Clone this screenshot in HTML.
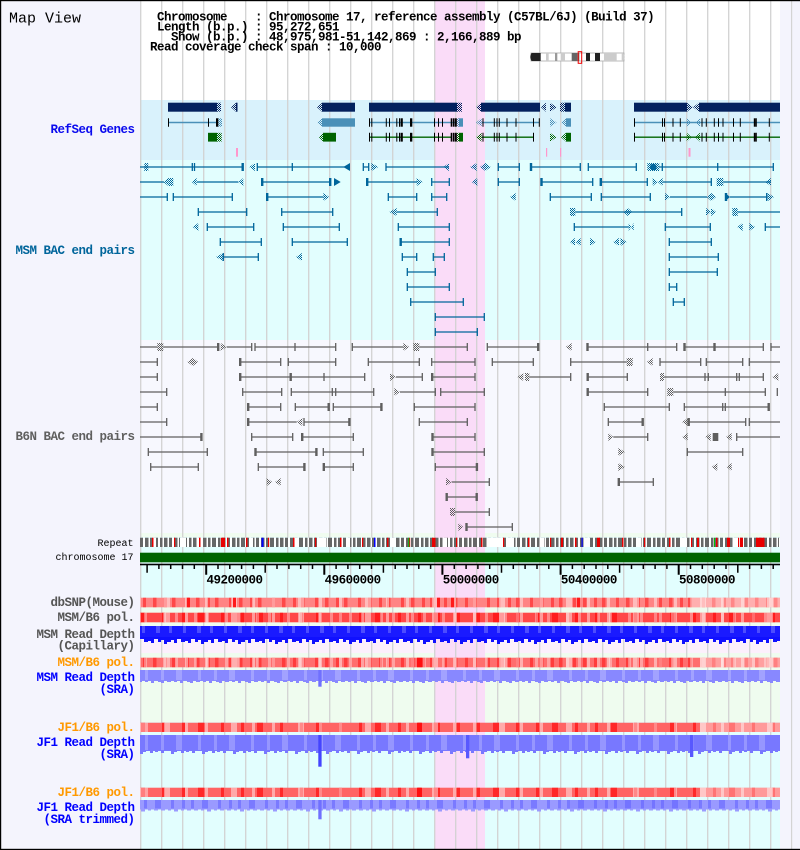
<!DOCTYPE html>
<html><head><meta charset="utf-8"><title>Map View</title>
<style>
html,body{margin:0;padding:0;background:#fff;}
svg{display:block;}
text{font-family:"Liberation Mono","DejaVu Sans Mono",monospace;}
.b{font-weight:bold;font-size:12.5px;letter-spacing:-0.5px;}
.s{font-size:10px;}
</style></head><body>
<svg width="800" height="850" viewBox="0 0 800 850" xmlns="http://www.w3.org/2000/svg">
<defs>
<pattern id="hT" width="2" height="2" patternUnits="userSpaceOnUse"><rect width="1" height="1" fill="#00659b"/><rect x="1" y="1" width="1" height="1" fill="#00659b"/></pattern>
<pattern id="hG" width="2" height="2" patternUnits="userSpaceOnUse"><rect width="1" height="1" fill="#5f5f5f"/><rect x="1" y="1" width="1" height="1" fill="#5f5f5f"/></pattern>
<pattern id="hN" width="2" height="2" patternUnits="userSpaceOnUse"><rect width="1" height="1" fill="#04215e"/><rect x="1" y="1" width="1" height="1" fill="#04215e"/></pattern>
<pattern id="hL" width="2" height="2" patternUnits="userSpaceOnUse"><rect width="1" height="1" fill="#4a90b8"/><rect x="1" y="1" width="1" height="1" fill="#4a90b8"/></pattern>
<pattern id="hD" width="2" height="2" patternUnits="userSpaceOnUse"><rect width="1" height="1" fill="#006400"/><rect x="1" y="1" width="1" height="1" fill="#006400"/></pattern>

<pattern id="dk1" width="43" height="850" patternUnits="userSpaceOnUse"><g fill="#ff0000" fill-opacity=".45"><rect x="0" width="3.5" height="850"/><rect x="14" width="3" height="850"/><rect x="24" width="3.5" height="850"/><rect x="35" width="3" height="850"/></g></pattern>
<pattern id="dk2" width="59" height="850" patternUnits="userSpaceOnUse"><g fill="#ff0000" fill-opacity=".6"><rect x="5" width="3" height="850"/><rect x="21" width="6" height="850"/><rect x="44" width="3" height="850"/></g></pattern>
<pattern id="lt1" width="67" height="850" patternUnits="userSpaceOnUse"><g fill="#fff" fill-opacity=".45"><rect x="4" width="3" height="850"/><rect x="30" width="6" height="850"/><rect x="51" width="3" height="850"/></g></pattern>
<pattern id="lt2" width="31" height="850" patternUnits="userSpaceOnUse"><g fill="#fff" fill-opacity=".35"><rect x="8" width="3" height="850"/><rect x="20" width="3" height="850"/></g></pattern>

<pattern id="rep" width="29" height="850" patternUnits="userSpaceOnUse"><g fill="#666"><rect x="0" width="3.5" height="850"/><rect x="5" width="2.5" height="850"/><rect x="9" width="4" height="850"/><rect x="15" width="2.5" height="850"/><rect x="19" width="3.5" height="850"/><rect x="24" width="3" height="850"/></g></pattern>
<pattern id="gap" width="97" height="850" patternUnits="userSpaceOnUse"><g fill="#fff"><rect x="3" width="5" height="850"/><rect x="55" width="4" height="850"/></g></pattern>
<pattern id="red" width="47" height="850" patternUnits="userSpaceOnUse"><g fill="#e80000"><rect x="11" width="1.5" height="850"/><rect x="33" width="1.2" height="850"/></g></pattern>

<pattern id="w1" width="41" height="850" patternUnits="userSpaceOnUse"><g fill="#fff" fill-opacity=".22"><rect x="5" width="3" height="850"/><rect x="19" width="3" height="850"/><rect x="33" width="4" height="850"/></g></pattern>
<pattern id="w2" width="53" height="850" patternUnits="userSpaceOnUse"><g fill="#fff" fill-opacity=".22"><rect x="2" width="3" height="850"/><rect x="17" width="6" height="850"/><rect x="39" width="3" height="850"/></g></pattern>
<pattern id="db" width="47" height="850" patternUnits="userSpaceOnUse"><g fill="#4040ff" fill-opacity=".35"><rect x="3" width="3" height="850"/><rect x="14" width="6" height="850"/><rect x="30" width="3" height="850"/><rect x="41" width="3" height="850"/></g></pattern>

<pattern id="pCap" x="0" y="637" width="37" height="30" patternUnits="userSpaceOnUse"><g fill="#1010ff"><rect x="0" width="3" height="4"/><rect x="3" width="3" height="6"/><rect x="6" width="4" height="2"/><rect x="10" width="3" height="5"/><rect x="13" width="3" height="3"/><rect x="16" width="3" height="7"/><rect x="19" width="4" height="5"/><rect x="23" width="3" height="3"/><rect x="26" width="3" height="6"/><rect x="29" width="4" height="2"/><rect x="33" width="4" height="5"/></g></pattern>
<pattern id="pSm" x="0" y="680" width="29" height="20" patternUnits="userSpaceOnUse"><g fill="#8888ff"><rect x="0" width="3" height="2"/><rect x="3" width="3" height="1"/><rect x="6" width="3" height="3"/><rect x="9" width="4" height="1"/><rect x="13" width="3" height="2"/><rect x="16" width="3" height="3"/><rect x="19" width="3" height="1"/><rect x="22" width="4" height="2"/><rect x="26" width="3" height="1"/></g></pattern>
<pattern id="pSj" x="0" y="750" width="31" height="20" patternUnits="userSpaceOnUse"><g fill="#7878ff"><rect x="0" width="3" height="2"/><rect x="3" width="3" height="1"/><rect x="6" width="3" height="3"/><rect x="9" width="4" height="1"/><rect x="13" width="3" height="1"/><rect x="16" width="3" height="4"/><rect x="19" width="3" height="2"/><rect x="22" width="4" height="1"/><rect x="26" width="3" height="3"/><rect x="29" width="2" height="1"/></g></pattern>
<pattern id="pSt" x="0" y="808.5" width="33" height="20" patternUnits="userSpaceOnUse"><g fill="#9a9aff"><rect x="0" width="3" height="1"/><rect x="3" width="3" height="2"/><rect x="6" width="3" height="1"/><rect x="9" width="4" height="3"/><rect x="13" width="3" height="1"/><rect x="16" width="3" height="2"/><rect x="19" width="3" height="1"/><rect x="22" width="4" height="2"/><rect x="26" width="3" height="1"/><rect x="29" width="4" height="2"/></g></pattern>
</defs>

<!-- page background -->
<rect width="800" height="850" fill="#f4f4fd"/>

<!-- track backgrounds -->
<rect x="140" y="1" width="640" height="99" fill="#ffffff"/>
<rect x="140" y="100" width="640" height="60" fill="#d9f2fc"/>
<rect x="140" y="160" width="640" height="180" fill="#e2fefe"/>
<rect x="140" y="340" width="640" height="193" fill="#f7f8fe"/>
<rect x="140" y="533" width="640" height="4" fill="#f0fcf0"/>
<rect x="140" y="537" width="640" height="70" fill="#e2fefe"/>
<rect x="140" y="607" width="640" height="19" fill="#effcef"/>
<rect x="140" y="626" width="640" height="27" fill="#fcf0fc"/>
<rect x="140" y="653" width="640" height="69" fill="#effcef"/>
<rect x="140" y="722" width="640" height="127" fill="#e2fefe"/>

<!-- highlight -->
<rect x="434.7" y="1" width="50.3" height="848" fill="#fadcf8"/>

<!-- grid -->
<path stroke="#d2d2d2" stroke-width="1.3" fill="none" d="M140.7 1V849M161.7 1V849M182.7 1V849M203.7 1V849M224.7 1V849M245.7 1V849M266.7 1V849M287.7 1V849M308.7 1V849M329.7 1V849M350.7 1V849M371.7 1V849M392.7 1V849M413.7 1V849M434.7 1V849M455.7 1V849M476.7 1V849M497.7 1V849M518.7 1V849M539.7 1V849M560.7 1V849M581.7 1V849M602.7 1V849M623.7 1V849M644.7 1V849M665.7 1V849M686.7 1V849M707.7 1V849M728.7 1V849M749.7 1V849M770.7 1V849"/>

<!-- header text -->
<text x="9" y="22.7" font-size="15" fill="#000">Map View</text>
<g class="b" fill="#000" style="white-space:pre">
<text x="157" y="20.7" xml:space="preserve">Chromosome    : Chromosome 17, reference assembly (C57BL/6J) (Build 37)</text>
<text x="157" y="30.7" xml:space="preserve">Length (b.p.) : 95,272,651</text>
<text x="157" y="40.7" xml:space="preserve">  Show (b.p.) : 48,975,981-51,142,869 : 2,166,889 bp</text>
<text x="150" y="50.7" xml:space="preserve">Read coverage check span : 10,000</text>
</g>

<!-- ideogram -->
<g>
<rect x="531" y="53" width="93" height="8" fill="#fff" stroke="#aaa" stroke-width="0.8"/>
<path d="M533.5 53H531.5Q529 57 531.5 61H533.5Z" fill="#222"/>
<rect x="533.3" y="53" width="7.4" height="8" fill="#222"/>
<rect x="546" y="53" width="2.7" height="8" fill="#ccc"/>
<rect x="555" y="53" width="2.3" height="8" fill="#999"/>
<rect x="560.7" y="53" width="4.3" height="8" fill="#ccc"/>
<rect x="571.7" y="53" width="5.6" height="8" fill="#666"/>
<rect x="577.3" y="53" width="2" height="8" fill="#666"/>
<rect x="586" y="53" width="4" height="8" fill="#222"/>
<rect x="595" y="53" width="5" height="8" fill="#222"/>
<rect x="604" y="53" width="12.7" height="8" fill="#ccc"/>
<path d="M621.7 53H623Q626.5 57 623 61H621.7Z" fill="#ccc"/>
<rect x="578.2" y="51.7" width="3.5" height="11.6" fill="none" stroke="#e00" stroke-width="1"/>
</g>

<!-- RefSeq row 1 (navy) -->
<g fill="#04215e">
<rect x="168" y="102.7" width="49" height="9"/>
<rect x="217" y="102.7" width="4" height="9" fill="url(#hN)"/>
<polygon points="231,107.2 236,102.7 236,111.7" fill="url(#hN)"/><rect x="236" y="102.7" width="1.5" height="9"/>
<polygon points="317,107.2 322,102.7 322,111.7" fill="url(#hN)"/>
<rect x="322" y="102.7" width="33" height="9"/>
<rect x="369" y="102.7" width="88" height="9"/>
<rect x="457" y="102.7" width="5" height="9" fill="url(#hN)"/>
<polygon points="476,107.2 481,102.7 481,111.7" fill="url(#hN)"/>
<rect x="481" y="102.7" width="59" height="9"/>
<polygon points="541,107.2 546,102.7 546,111.7" fill="url(#hN)"/>
<polygon points="556.7,107.2 550,102.7 550,111.7" fill="url(#hN)"/>
<rect x="560" y="102.7" width="5" height="9" fill="url(#hN)"/>
<rect x="565" y="102.7" width="6" height="9"/>
<rect x="634" y="102.7" width="53" height="9"/>
<polygon points="687,102.7 693,107.2 687,111.7" fill="url(#hN)"/>
<polygon points="699,102.7 693,107.2 699,111.7" fill="url(#hN)"/>
<rect x="699" y="102.7" width="81" height="9"/>
</g>

<!-- RefSeq row 2 (steel blue) -->
<path stroke="#4a90b8" stroke-width="1.4" fill="none" d="M168 122.5H216M369 122.5H457M481.7 122.5H539M634 122.5H780"/>
<g fill="#4a90b8">
<rect x="218.3" y="118.3" width="3.7" height="8.4" fill="url(#hL)"/>
<polygon points="317,122.5 322,118.3 322,126.7" fill="url(#hL)"/>
<rect x="322" y="118.3" width="33" height="8.4"/>
<rect x="457" y="118.3" width="2" height="8.4" fill="url(#hL)"/>
<rect x="459" y="118.3" width="4" height="8.4"/>
<polygon points="476,122.5 481.7,118.3 481.7,126.7" fill="url(#hL)"/>
<polygon points="556.7,122.5 550,118.3 550,126.7" fill="url(#hL)"/>
<polygon points="561,122.5 566,118.3 566,126.7" fill="url(#hL)"/>
<rect x="566" y="118.3" width="5" height="8.4"/>
<polygon points="691.7,122.5 686.7,118.3 686.7,126.7" fill="url(#hL)"/>
<polygon points="695,122.5 700,118.3 700,126.7" fill="url(#hL)"/>
</g>
<path stroke="#000" stroke-width="1" fill="none" d="M168.5 118.3v8.4M208.5 118.3v8.4M369.5 118.3v8.4M371.8 118.3v8.4M386.3 118.3v8.4M389.5 118.3v8.4M396.8 118.3v8.4M399.5 118.3v8.4M434.5 118.3v8.4M438.5 118.3v8.4M442.5 118.3v8.4M483 118.3v8.4M494.3 118.3v8.4M497 118.3v8.4M499.3 118.3v8.4M507 118.3v8.4M516 118.3v8.4M533.5 118.3v8.4M539.3 118.3v8.4M634.5 118.3v8.4M662.5 118.3v8.4M664.5 118.3v8.4M673 118.3v8.4M680.3 118.3v8.4M702 118.3v8.4M706.3 118.3v8.4M714.3 118.3v8.4M718.5 118.3v8.4M723 118.3v8.4M733.5 118.3v8.4M740.3 118.3v8.4M756.3 118.3v8.4M769.3 118.3v8.4"/>
<g fill="#000">
<rect x="216" y="118.3" width="2.3" height="8.4"/><rect x="400.5" y="118.3" width="2.3" height="8.4"/><rect x="410" y="118.3" width="2.3" height="8.4"/><rect x="450.7" y="118.3" width="1.5" height="8.4"/><rect x="452.8" y="118.3" width="1.4" height="8.4"/><rect x="454.6" y="118.3" width="2.2" height="8.4"/><rect x="753.8" y="118.3" width="2" height="8.4"/>
</g>

<!-- RefSeq row 3 (green) -->
<path stroke="#006400" stroke-width="1.4" fill="none" d="M369 137.2H451M481.7 137.2H533.3M634 137.2H780"/>
<g fill="#006400">
<rect x="208" y="132.8" width="9" height="8.8"/>
<rect x="217" y="132.8" width="4.7" height="8.8" fill="url(#hD)"/>
<polygon points="319,137.2 323,132.8 323,141.6" fill="url(#hD)"/>
<rect x="323" y="132.8" width="13" height="8.8"/>
<rect x="456.7" y="132.8" width="2.3" height="8.8" fill="url(#hD)"/>
<rect x="459" y="132.8" width="4" height="8.8"/>
<polygon points="476,137.2 481.7,132.8 481.7,141.6" fill="url(#hD)"/>
<polygon points="556.7,137.2 550,132.8 550,141.6" fill="url(#hD)"/>
<polygon points="561,137.2 566,132.8 566,141.6" fill="url(#hD)"/>
<rect x="566" y="132.8" width="5" height="8.8"/>
<polygon points="691.7,137.2 686.7,132.8 686.7,141.6" fill="url(#hD)"/>
<polygon points="695,137.2 700,132.8 700,141.6" fill="url(#hD)"/>
</g>
<path stroke="#000" stroke-width="1" fill="none" d="M369.5 132.8v8.8M371.8 132.8v8.8M386.3 132.8v8.8M389.5 132.8v8.8M396.8 132.8v8.8M399.5 132.8v8.8M434.5 132.8v8.8M438.5 132.8v8.8M442.5 132.8v8.8M483 132.8v8.8M494.3 132.8v8.8M497 132.8v8.8M499.3 132.8v8.8M507 132.8v8.8M516 132.8v8.8M533.5 132.8v8.8M634.5 132.8v8.8M662.5 132.8v8.8M664.5 132.8v8.8M673 132.8v8.8M680.3 132.8v8.8M702 132.8v8.8M706.3 132.8v8.8M714.3 132.8v8.8M718.5 132.8v8.8M723 132.8v8.8M733.5 132.8v8.8M740.3 132.8v8.8M756.3 132.8v8.8M769.3 132.8v8.8"/>
<g fill="#000">
<rect x="400.5" y="132.8" width="2.3" height="8.8"/><rect x="410" y="132.8" width="2.3" height="8.8"/><rect x="450.7" y="132.8" width="1.5" height="8.8"/><rect x="452.8" y="132.8" width="1.4" height="8.8"/><rect x="454.6" y="132.8" width="2.2" height="8.8"/><rect x="753.8" y="132.8" width="2" height="8.8"/>
</g>

<!-- RefSeq row 4 pink marks -->
<g fill="#ff96cc">
<rect x="236" y="148" width="2" height="8.7"/><rect x="546" y="148" width="1.2" height="8.7"/><rect x="560" y="148" width="1.2" height="8.7"/><rect x="688.5" y="148" width="2" height="8.7"/>
</g>

<!-- MSM BAC end pairs -->
<path stroke="#00659b" stroke-width="1.3" fill="none" d="
M140 167H243M192.3 163v8M194.5 163v8M257 167H347M257.3 163v8M292.3 163v8M363.3 167H368.7M363.3 163v8M368.7 163v8M386 167H449M386 163v8M498.3 167H519.3M498.3 163v8M519.3 163v8M531 167H580.3M580.3 163v8M588.3 167H636.3M588.3 163v8M636.3 163v8M659 167H773.3M662.3 163v8M717.7 163v8M773.3 163v8
M140 182H164M197 182H238.3M261.7 182H330M367 182H417M431.7 182H449.3M431.7 178v8M449.3 178v8M498.3 182H519.3M498.3 178v8M519.3 178v8M541 182H592.7M592.7 178v8M600.3 182H647.3M647.3 178v8M662.7 182H711.3M711.3 178v8M723.3 182H771
M140 197H167.3M167.3 193v8M173.3 197H232.3M173.3 193v8M232.3 193v8M266.7 197H323.3M388.3 197H416.7M388.3 193v8M416.7 193v8M431.7 197H446.7M431.7 193v8M446.7 193v8M550.3 197H591.3M550.3 193v8M591.3 193v8M601.3 197H650.3M601.3 193v8M650.3 193v8M670 197H707M730 197H767.7M766.7 193v8
M198.3 212H246.7M198.3 208v8M246.7 208v8M281.7 212H332.7M281.7 208v8M332.7 208v8M396.7 212H437.3M437.3 208v8M575.3 212H681.7M681.7 208v8M737.7 212H780
M207.3 227H253.7M207.3 223v8M253.7 223v8M283.3 227H339.3M283.3 223v8M339.3 223v8M398.3 227H449.3M398.3 223v8M449.3 223v8M574.3 227H628.7M574.3 223v8M665.3 227H710.3M665.3 223v8M710.3 223v8M765.3 227H780M765.3 223v8
M220.3 242H261.3M220.3 238v8M261.3 238v8M292.3 242H347.3M292.3 238v8M347.3 238v8M400.5 242H449.3M449.3 238v8M669.3 242H711.3M669.3 238v8M711.3 238v8
M223.3 257H258.3M258.3 253v8M223.3 253v8M402.3 257H416.7M402.3 253v8M416.7 253v8M433.3 257H444.3M433.3 253v8M444.3 253v8M669.3 257H718.3M669.3 253v8M718.3 253v8
M407.3 272H435.3M407.3 268v8M435.3 268v8M669.3 272H717.3M669.3 268v8M717.3 268v8
M407.3 287H449.3M407.3 283v8M449.3 283v8M669.3 287H676.7M669.3 283v8M676.7 283v8
M410.7 302H463.3M410.7 298v8M463.3 298v8M673.3 302H684.3M673.3 298v8M684.3 298v8
M435.3 317H484.3M435.3 313v8M484.3 313v8
M435.3 332H477.3M435.3 328v8M477.3 328v8"/>
<g fill="#00659b">
<rect x="241.5" y="163" width="2.4" height="8"/><rect x="529.8" y="163" width="2.4" height="8"/>
<rect x="261" y="178" width="2.4" height="8"/><rect x="329" y="178" width="2.4" height="8"/><rect x="366" y="178" width="2.4" height="8"/><rect x="540.3" y="178" width="2.4" height="8"/><rect x="599.6" y="178" width="2.4" height="8"/>
<rect x="266" y="193" width="2.4" height="8"/><rect x="724.8" y="193" width="2.4" height="8"/>
<rect x="399.5" y="238" width="2.4" height="8"/>
<polygon points="343.3,167 350,163 350,171"/>
<polygon points="340.7,182 334,178 334,186"/>
<polygon points="730,197 725.3,193 725.3,201"/>
<circle cx="653.3" cy="167" r="3.3"/>
</g>
<g fill="url(#hT)">
<rect x="144.3" y="163" width="4" height="8"/>
<polygon points="249.3,167 255,163 255,171"/>
<polygon points="378.3,167 371.3,163 371.3,171"/>
<polygon points="443.3,167 449,163 449,171"/>
<polygon points="470,167 476.7,163 476.7,171"/>
<polygon points="480,167 485.3,163 490.7,167 485.3,171"/>
<rect x="647.3" y="163" width="12" height="8"/>
<polygon points="163.3,182 168.3,178 168.3,186"/><rect x="168.3" y="178" width="5" height="8"/>
<polygon points="191.7,182 196.7,178 196.7,186"/>
<polygon points="238.3,182 243.3,178 243.3,186"/>
<polygon points="422.7,182 416.7,178 416.7,186"/>
<polygon points="471.7,182 477.3,178 477.3,186"/>
<polygon points="652.7,178 657.7,182 652.7,186"/><polygon points="662.7,178 657.7,182 662.7,186"/>
<rect x="716.7" y="178" width="6.6" height="8"/>
<polygon points="765,182 771,178 771,186"/>
<polygon points="329.3,197 323.3,193 323.3,201"/>
<polygon points="510,197 515.7,193 515.7,201"/>
<polygon points="670,197 665,193 665,201"/>
<polygon points="706.7,197 711.3,193 716,197 711.3,201"/>
<polygon points="774,197 767.7,193 767.7,201"/>
<polygon points="389.3,212 396.7,208 396.7,216"/>
<rect x="570" y="208" width="5.3" height="8"/>
<polygon points="623.3,212 627.8,208 632.3,212 627.8,216"/>
<polygon points="711,212 706,208 706,216"/><polygon points="716,212 711,208 711,216"/>
<rect x="732.3" y="208" width="5.4" height="8"/>
<polygon points="192.7,227 198.3,223 198.3,231"/>
<polygon points="628.7,223 631.2,227 628.7,231"/><polygon points="633.7,223 631.2,227 633.7,231"/>
<polygon points="737.3,227 742.7,223 742.7,231"/>
<polygon points="755,227 749.3,223 749.3,231"/>
<polygon points="570,242 575,238 575,246"/><polygon points="575.5,242 580.7,238 580.7,246"/>
<polygon points="595.7,242 590,238 590,246"/>
<polygon points="613.3,242 619,238 619,246"/><polygon points="626.7,242 620.5,238 620.5,246"/>
<polygon points="216,257 223.3,253 223.3,261"/>
<polygon points="296,257 302,253 302,261"/>
</g>

<!-- B6N BAC end pairs -->
<path stroke="#5f5f5f" stroke-width="1.3" fill="none" d="
M140 347H157.3M163.3 347H218.3M226.7 347H251.7M255 347H335.7M352.3 347H403.3M251.7 343v8M255 343v8M295 343v8M335.7 343v8M352.3 343v8M419.3 347H467.3M467.3 343v8M487.3 347H538.3M487.3 343v8M587.3 347H676.7M647.7 343v8M676.7 343v8M684.3 347H763.3M763.3 343v8M771 347H780M771 343v8
M140 362H157.3M157.3 358v8M240 362H280.7M280.7 358v8M288.3 362H335.7M288.3 358v8M335.7 358v8M368.3 362H419.3M368.3 358v8M419.3 358v8M431.7 362H475M431.7 358v8M475 358v8M492.3 362H533.3M492.3 358v8M533.3 358v8M570.7 362H626.7M570.7 358v8M660 362H700.7M660 358v8M700.7 358v8M706.3 362H742.7M706.3 358v8M742.7 358v8M749.3 362H780M749.3 358v8
M140 377H157.3M157.3 373v8M240 377H364.7M324 373v8M364.7 373v8M396 377H422.3M422.3 373v8M431.7 377H475M475 373v8M529.3 377H570.7M570.7 373v8M587.3 377H627.3M627.3 373v8M664 377H763.3M705 373v8M708.3 373v8M736.7 373v8M739.3 373v8M763.3 373v8
M140 392H166.7M166.7 388v8M242.7 392H281.7M242.7 388v8M281.7 388v8M291.3 392H373.7M291.3 388v8M332.3 388v8M335.7 388v8M373.7 388v8M400 392H435.3M435.3 388v8M440.7 392H484.3M440.7 388v8M484.3 388v8M587.3 392H647.7M647.7 388v8M673.3 392H765.3M725.3 388v8M765.3 388v8M777.3 388v8
M140 407H157.3M157.3 403v8M247.7 407H280.7M280.7 403v8M295.3 407H328.3M295.3 403v8M333.3 407H381M333.3 403v8M414.3 407H475M414.3 403v8M475 403v8M604.3 407H669.3M604.3 403v8M669.3 403v8M684.3 407H768.3M684.3 403v8M722.7 403v8M725.3 403v8
M140 422H166.7M166.7 418v8M247.7 422H296.7M304 422H349M304 418v8M419.3 422H467.3M419.3 418v8M467.3 418v8M608.3 422H642.3M608.3 418v8M688.3 422H745.7M745.7 418v8M749.3 422H780M749.3 418v8
M140 437H201M251.7 437H292.7M251.7 433v8M292.7 433v8M301.7 437H353.3M353.3 433v8M432 437H475M475 433v8M613.3 437H647.7M647.7 433v8M736.7 437H780M736.7 433v8
M148.3 452H207.3M148.3 448v8M207.3 448v8M255 452H316M323.3 452H363.3M323.3 448v8M363.3 448v8M432 452H484.3M484.3 448v8M687.3 452H742.7M687.3 448v8M742.7 448v8
M150.7 467H198.3M150.7 463v8M198.3 463v8M258.3 467H304M258.3 463v8M323.3 467H353.3M353.3 463v8M435.3 467H476.7M435.3 463v8
M451.7 482H489.3M489.3 478v8M618.3 482H653.3M653.3 478v8
M446 497H476
M455 512H489.3M489.3 508v8
M466 527H512.3M512.3 523v8"/>
<g fill="#5f5f5f">
<rect x="217" y="343" width="2.4" height="8"/><rect x="537" y="343" width="2.4" height="8"/><rect x="586.3" y="343" width="2.4" height="8"/><rect x="683.3" y="343" width="2.4" height="8"/><rect x="713.3" y="343" width="2.4" height="8"/>
<rect x="239" y="358" width="2.4" height="8"/>
<rect x="239" y="373" width="2.4" height="8"/><rect x="289.5" y="373" width="2.4" height="8"/><rect x="431" y="373" width="2.4" height="8"/><rect x="586.5" y="373" width="2.4" height="8"/>
<rect x="586.5" y="388" width="2.4" height="8"/>
<rect x="247" y="403" width="2.4" height="8"/><rect x="327.5" y="403" width="2.4" height="8"/><rect x="380.2" y="403" width="2.4" height="8"/><rect x="767.5" y="403" width="2.4" height="8"/>
<rect x="247" y="418" width="2.4" height="8"/><rect x="348.2" y="418" width="2.4" height="8"/><rect x="641.5" y="418" width="2.4" height="8"/><rect x="687.5" y="418" width="2.4" height="8"/>
<rect x="200.2" y="433" width="2.4" height="8"/><rect x="301" y="433" width="2.4" height="8"/><rect x="431.3" y="433" width="2.4" height="8"/>
<rect x="254.3" y="448" width="2.4" height="8"/><rect x="315.2" y="448" width="2.4" height="8"/><rect x="431.3" y="448" width="2.4" height="8"/>
<rect x="303.2" y="463" width="2.4" height="8"/><rect x="322.6" y="463" width="2.4" height="8"/><rect x="475.7" y="463" width="2.4" height="8"/>
<rect x="617.6" y="478" width="2.4" height="8"/>
<rect x="445.5" y="493" width="2.4" height="8"/><rect x="475.5" y="493" width="2.4" height="8"/>
<rect x="465.3" y="523" width="2.4" height="8"/>
<rect x="712.7" y="433" width="5.6" height="8"/>
</g>
<g fill="url(#hG)">
<rect x="157.3" y="343" width="6" height="8"/>
<polygon points="226.7,347 220.7,343 220.7,351"/>
<polygon points="409.3,347 403.3,343 403.3,351"/>
<rect x="413.3" y="343" width="6" height="8"/>
<polygon points="565.7,347 571.7,343 571.7,351"/>
<polygon points="187.3,362 192.8,358 198.3,362 192.8,366"/>
<rect x="626.7" y="358" width="6" height="8"/>
<polygon points="646.7,362 652.7,358 652.7,366"/>
<polygon points="396,377 390,373 390,381"/>
<polygon points="517.3,377 523.3,373 523.3,381"/>
<rect x="525" y="373" width="4.3" height="8"/>
<rect x="660" y="373" width="4" height="8"/>
<polygon points="772.3,377 778.3,373 778.3,381"/>
<polygon points="400,392 394.3,388 394.3,396"/>
<rect x="667.3" y="388" width="6" height="8"/>
<polygon points="296.7,422 302.3,418 302.3,426"/>
<polygon points="682,422 688,418 688,426"/>
<polygon points="613.3,437 608.3,433 608.3,441"/>
<polygon points="682.3,437 687.7,433 687.7,441"/>
<polygon points="705.3,437 710.7,433 710.7,441"/>
<polygon points="726,437 731.7,433 731.7,441"/>
<polygon points="625,452 618.3,448 618.3,456"/>
<polygon points="625,467 618.3,463 618.3,471"/>
<polygon points="711.7,467 717.3,463 717.3,471"/>
<polygon points="726.7,467 731.7,463 731.7,471"/>
<polygon points="272.3,482 266.7,478 266.7,486"/>
<polygon points="275,482 280.7,478 280.7,486"/>
<polygon points="451.7,482 446,478 446,486"/>
<rect x="450" y="508" width="5" height="8"/>
<polygon points="463.3,527 458.3,523 458.3,531"/>
</g>

<!-- Repeat strip -->
<rect x="140" y="537.7" width="640" height="9.3" fill="#fff"/>
<rect x="140" y="537.7" width="640" height="9.3" fill="url(#rep)"/>
<rect x="140" y="537.7" width="640" height="9.3" fill="url(#gap)"/>
<rect x="140" y="537.7" width="640" height="9.3" fill="url(#red)"/>
<g fill="#fff"><rect x="180" y="537.7" width="6" height="9.3"/><rect x="318" y="537.7" width="8" height="9.3"/><rect x="493" y="537.7" width="10" height="9.3"/><rect x="508" y="537.7" width="6" height="9.3"/></g>
<g fill="#e80000"><rect x="222" y="537.7" width="3" height="9.3"/><rect x="227" y="537.7" width="1.5" height="9.3"/><rect x="432" y="537.7" width="2" height="9.3"/><rect x="561" y="537.7" width="2" height="9.3"/><rect x="598" y="537.7" width="2" height="9.3"/><rect x="697" y="537.7" width="2" height="9.3"/><rect x="727" y="537.7" width="3" height="9.3"/><rect x="740" y="537.7" width="3" height="9.3"/><rect x="756" y="537.7" width="7" height="9.3"/></g>
<g fill="#0000ff"><rect x="261.5" y="537.7" width="2" height="9.3"/><rect x="374" y="537.7" width="1.5" height="9.3"/><rect x="581.5" y="537.7" width="1.2" height="9.3"/></g>
<g fill="#00c000"><rect x="408.3" y="537.7" width="1" height="9.3"/><rect x="714" y="537.7" width="1" height="9.3"/></g>

<!-- chromosome bar -->
<rect x="140" y="552.7" width="640" height="9.6" fill="#006400"/>

<!-- axis -->
<rect x="140" y="563.7" width="640" height="1.6" fill="#000"/>
<path stroke="#000" stroke-width="1.5" fill="none" d="M147.1 565V572.7M158.9 565V569M170.7 565V569M182.5 565V569M194.3 565V569M218 565V569M229.8 565V569M241.6 565V569M253.4 565V569M265.2 565V572.7M277 565V569M288.9 565V569M300.7 565V569M312.5 565V569M336.1 565V569M347.9 565V569M359.7 565V569M371.5 565V569M383.4 565V572.7M395.2 565V569M407 565V569M418.8 565V569M430.6 565V569M454.3 565V569M466.1 565V569M477.9 565V569M489.7 565V569M501.5 565V572.7M513.3 565V569M525.1 565V569M537 565V569M548.8 565V569M572.4 565V569M584.2 565V569M596 565V569M607.8 565V569M619.6 565V572.7M631.5 565V569M643.3 565V569M655.1 565V569M666.9 565V569M690.5 565V569M702.3 565V569M714.2 565V569M726 565V569M737.8 565V572.7M749.6 565V569M761.4 565V569M773.2 565V569"/>
<path stroke="#000" stroke-width="2" fill="none" d="M206.2 565V574.7M324.3 565V574.7M442.4 565V574.7M560.6 565V574.7M678.7 565V574.7"/>
<g class="b" fill="#000">
<text x="206.5" y="583.3">49200000</text>
<text x="324.6" y="583.3">49600000</text>
<text x="442.7" y="583.3">50000000</text>
<text x="560.9" y="583.3">50400000</text>
<text x="679" y="583.3">50800000</text>
</g>

<!-- dbSNP band -->
<rect x="140" y="597.7" width="640" height="9.6" fill="#ff8484"/>
<rect x="140" y="597.7" width="640" height="9.6" fill="url(#dk1)"/>
<rect x="140" y="597.7" width="640" height="9.6" fill="url(#lt1)"/>
<rect x="690" y="597.7" width="90" height="9.6" fill="#fff" fill-opacity=".35"/>
<g fill="#ff1a1a"><rect x="187" y="597.7" width="3" height="9.6"/><rect x="233" y="597.7" width="3" height="9.6"/><rect x="437" y="597.7" width="3" height="9.6"/><rect x="451" y="597.7" width="3" height="9.6"/><rect x="577" y="597.7" width="3" height="9.6"/></g>

<!-- MSM/B6 pol (gray) band -->
<rect x="140" y="612.7" width="640" height="9.6" fill="#ff4848"/>
<rect x="140" y="612.7" width="640" height="9.6" fill="url(#dk2)"/>
<rect x="140" y="612.7" width="640" height="9.6" fill="url(#lt2)"/>
<rect x="140" y="612.7" width="640" height="9.6" fill="url(#lt1)"/>

<!-- MSM Read Depth (Capillary) -->
<rect x="140" y="626" width="640" height="11" fill="#1a1aff"/>
<rect x="140" y="626" width="640" height="7" fill="url(#w1)"/>
<rect x="140" y="637" width="640" height="8" fill="url(#pCap)"/>

<!-- MSM/B6 pol (orange) band -->
<rect x="140" y="657.7" width="640" height="9.6" fill="#ff6e6e"/>
<rect x="140" y="657.7" width="640" height="9.6" fill="url(#dk1)"/>
<rect x="140" y="657.7" width="640" height="9.6" fill="url(#lt1)"/>
<rect x="140" y="657.7" width="640" height="9.6" fill="url(#lt2)"/>
<rect x="700" y="657.7" width="80" height="9.6" fill="#fff" fill-opacity=".35"/>
<rect x="417" y="657.7" width="5" height="9.6" fill="#ff1010"/>

<!-- MSM Read Depth (SRA) -->
<rect x="140" y="670" width="640" height="10" fill="#8888ff"/>
<rect x="140" y="670" width="640" height="10" fill="url(#w2)"/>
<rect x="140" y="680" width="640" height="4" fill="url(#pSm)"/>
<rect x="318.3" y="670" width="3.3" height="16.7" fill="#7070ff"/>

<!-- JF1/B6 pol band 1 -->
<rect x="140" y="722.7" width="640" height="9.3" fill="#ff6464"/>
<rect x="140" y="722.7" width="640" height="9.3" fill="url(#dk2)"/>
<rect x="140" y="722.7" width="640" height="9.3" fill="url(#lt1)"/>
<rect x="700" y="722.7" width="80" height="9.3" fill="#fff" fill-opacity=".35"/>
<rect x="140" y="722.7" width="8" height="9.3" fill="#fff" fill-opacity=".4"/>
<rect x="417" y="722.7" width="5" height="9.3" fill="#ff1010"/>

<!-- JF1 Read Depth (SRA) -->
<rect x="140" y="735" width="640" height="15" fill="#7878ff"/>
<rect x="140" y="735" width="640" height="15" fill="url(#w2)"/>
<rect x="140" y="750" width="640" height="5" fill="url(#pSj)"/>
<rect x="318.3" y="735" width="3.3" height="31.7" fill="#4444ff"/>
<rect x="466" y="735" width="3.3" height="23.3" fill="#5858ff"/>
<rect x="690" y="735" width="3.3" height="22" fill="#5858ff"/>

<!-- JF1/B6 pol band 2 -->
<rect x="140" y="787.7" width="640" height="9.3" fill="#ff6464"/>
<rect x="140" y="787.7" width="640" height="9.3" fill="url(#dk2)"/>
<rect x="140" y="787.7" width="640" height="9.3" fill="url(#lt1)"/>
<rect x="700" y="787.7" width="80" height="9.3" fill="#fff" fill-opacity=".35"/>
<rect x="140" y="787.7" width="8" height="9.3" fill="#fff" fill-opacity=".4"/>
<rect x="417" y="787.7" width="5" height="9.3" fill="#ff1010"/>

<!-- JF1 Read Depth (SRA trimmed) -->
<rect x="140" y="800" width="640" height="8.5" fill="#9a9aff"/>
<rect x="140" y="800" width="640" height="8.5" fill="url(#db)"/>
<rect x="570" y="800" width="130" height="8.5" fill="#6060ff" fill-opacity=".2"/>
<rect x="140" y="808.5" width="640" height="4" fill="url(#pSt)"/>
<rect x="318.3" y="800" width="3.3" height="19.3" fill="#7070ff"/>

<!-- right margin -->
<rect x="780" y="0" width="20" height="850" fill="#f4f4fd"/>
<rect x="791" y="1" width="1.2" height="848" fill="#d4d4d4"/>

<!-- left labels -->
<g class="b" text-anchor="end">
<text x="134.5" y="133" fill="#0a0aee">RefSeq Genes</text>
<text x="134.5" y="254" fill="#00659b">MSM BAC end pairs</text>
<text x="134.5" y="440" fill="#5f5f5f">B6N BAC end pairs</text>
<text x="134.5" y="606" fill="#555">dbSNP(Mouse)</text>
<text x="134.5" y="621" fill="#555">MSM/B6 pol.</text>
<text x="134.5" y="638" fill="#555">MSM Read Depth</text>
<text x="134.5" y="649.5" fill="#555">(Capillary)</text>
<text x="134.5" y="666" fill="#ff9900">MSM/B6 pol.</text>
<text x="134.5" y="681" fill="#0000ff">MSM Read Depth</text>
<text x="134.5" y="693" fill="#0000ff">(SRA)</text>
<text x="134.5" y="731" fill="#ff9900">JF1/B6 pol.</text>
<text x="134.5" y="746" fill="#0000ff">JF1 Read Depth</text>
<text x="134.5" y="758" fill="#0000ff">(SRA)</text>
<text x="134.5" y="796" fill="#ff9900">JF1/B6 pol.</text>
<text x="134.5" y="811" fill="#0000ff">JF1 Read Depth</text>
<text x="134.5" y="823" fill="#0000ff">(SRA trimmed)</text>
</g>
<g class="s" text-anchor="end" fill="#000">
<text x="133.5" y="546">Repeat</text>
<text x="133.5" y="560">chromosome 17</text>
</g>

<!-- borders -->
<rect x="0" y="0" width="800" height="1.2" fill="#000"/>
<rect x="0" y="0" width="1.2" height="850" fill="#000"/>
<rect x="0" y="848.8" width="800" height="1.2" fill="#000"/>
</svg>
</body></html>
